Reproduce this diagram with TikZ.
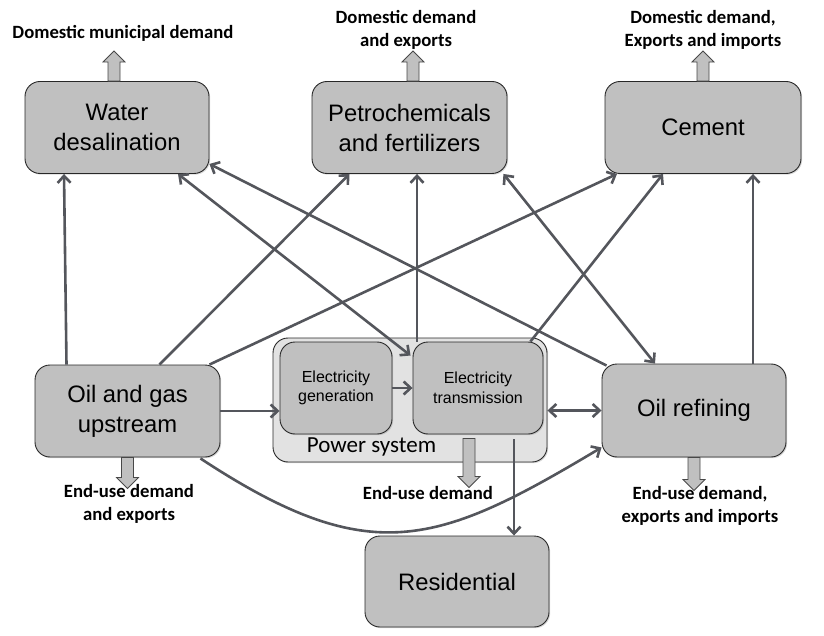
\documentclass[tikz,border=0pt]{standalone}
\usepackage{fontspec}
\setmainfont{Liberation Sans}
\newfontfamily\calib{Carlito}
\usetikzlibrary{arrows.meta,calc,shadows}
\definecolor{dgray}{RGB}{84,86,92}
\definecolor{boxgray}{RGB}{192,192,192}
\definecolor{pgray}{RGB}{226,226,226}
\definecolor{edge}{RGB}{40,40,40}
\tikzset{
  box/.style={draw=edge,fill=boxgray,rounded corners=15pt,align=center,line width=0.9pt,
    font=\fontsize{23.8}{30}\selectfont,
    drop shadow={shadow xshift=1.2pt,shadow yshift=-1.2pt,opacity=0.3}},
  subbox/.style={box,font=\fontsize{16}{19.5}\selectfont},
  groupbox/.style={box,fill=pgray},
  lbl/.style={align=center,font=\calib\bfseries\fontsize{18.7}{23}\selectfont,inner sep=0pt},
  flow/.style={dgray,line width=2.6pt,-{Straight Barb[length=7pt,width=13pt]}},
  flows/.style={flow,{Straight Barb[length=7pt,width=13pt]}-{Straight Barb[length=7pt,width=13pt]}},
  blk/.style={draw=edge!85,fill=boxgray,line width=0.8pt,line join=miter}
}
\newcommand{\blkup}[2]{\draw[blk] (#1) ++(-6,0) -- ++(0,-#2) -- ++(-5,0) -- ++(11,-11) -- ++(11,11) -- ++(-5,0) -- ++(0,#2) -- cycle;}
\newcommand{\blkdown}[2]{\draw[blk] (#1) ++(-6,0) -- ++(0,#2) -- ++(-5,0) -- ++(11,11) -- ++(11,-11) -- ++(-5,0) -- ++(0,-#2) -- cycle;}

\begin{document}
\begin{tikzpicture}[x=1pt,y=-1pt]
  \useasboundingbox (0,0) rectangle (824,636);
  % sector boxes
  \node[box,minimum width=184pt,minimum height=92pt] (desal) at (117,127.5) {Water\\desalination};
  \node[box,minimum width=195pt,minimum height=92pt] (petro) at (409.5,127.5) {Petrochemicals\\and fertilizers};
  \node[box,minimum width=196pt,minimum height=92pt] (cement) at (703,127.5) {Cement};
  \node[box,minimum width=185pt,minimum height=92pt] (up) at (127.5,411) {Oil and gas\\upstream};
  \node[groupbox,minimum width=274pt,minimum height=124pt] (power) at (410,400) {};
  \node[subbox,minimum width=112pt,minimum height=92pt] (gen) at (336,388) {Electricity\\generation};
  \node[subbox,minimum width=130pt,minimum height=92pt] (trans) at (478,388) {Electricity\\transmission};
  \node[font=\calib\fontsize{23}{27}\selectfont] (plbl) at (371.5,447) {Power system};
  \node[box,minimum width=184pt,minimum height=93pt] (refin) at (694,410.5) {Oil refining};
  \node[box,minimum width=184pt,minimum height=91pt] (res) at (457,581.5) {Residential};

  % flows between sectors
  \draw[flow] ([xshift=-61pt]up.north) -- ([xshift=-53pt]desal.south);
  \draw[flow] ([xshift=32pt]up.north) -- ([xshift=-60pt]petro.south);
  \draw[flow] ([xshift=82pt]up.north) -- ([xshift=-86pt]cement.south);
  \draw[flow] (up.east) -- (gen.west |- up.east);
  \draw[flow] (gen.east) -- (trans.west);
  \draw[flow] ([xshift=-61pt]trans.north) -- ([xshift=7.5pt]petro.south);
  \draw[flows] ([xshift=61pt]desal.south) -- ($(trans.north west)+(-2,14)$);
  \draw[flow] ($(refin.north west)+(5,2)$) -- ($(desal.south east)+(0,-10)$);
  \draw[flows] ($(petro.south east)+(-4,0)$) -- ([xshift=-39pt]refin.north);
  \draw[flow] ($(trans.north east)+(-13,0)$) -- ([xshift=-40pt]cement.south);
  \draw[flow] ([xshift=59pt]refin.north) -- ([xshift=50pt]cement.south);
  \draw[flows] (power.east |- refin.west) -- (refin.west);
  \draw[flow] ($(up.south east)+(-20,1)$) .. controls +(170,112) and +(-164,98) .. ($(refin.south west)+(0,-10)$);
  \draw[flow] ($(trans.south)+(36,5)$) -- (res.north -| 514,0);

  % final demand
  \blkup{[xshift=-3pt]desal.north}{19}
  \blkup{[xshift=3.5pt]petro.north}{19}
  \blkup{cement.north}{19}
  \blkdown{up.south}{20}
  \blkdown{$(trans.south)+(-9,4)$}{38}
  \blkdown{refin.south}{22}
  \node[lbl] (dmun) at (123,33) {Domestic municipal demand};
  \node[lbl] (dexp) at (406,29.5) {Domestic demand\\and exports};
  \node[lbl] (dimp) at (703,30) {Domestic demand,\\Exports and imports};
  \node[lbl] (euexp) at (129,503.5) {End-use demand\\and exports};
  \node[lbl] (eu) at (428,493) {End-use demand};
  \node[lbl] (euimp) at (700,505.5) {End-use demand,\\exports and imports};
\end{tikzpicture}
\end{document}
